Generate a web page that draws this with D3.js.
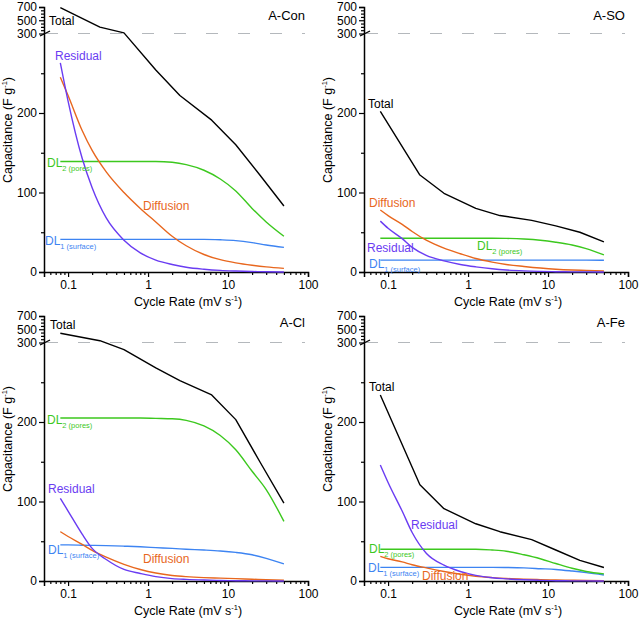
<!DOCTYPE html>
<html>
<head>
<meta charset="utf-8">
<script src="https://cdn.jsdelivr.net/npm/d3@7"></script>
<style>
  html, body { margin: 0; padding: 0; background: #fff; }
  svg { display: block; font-family: "Liberation Sans", Arial, sans-serif; }
</style>
</head>
<body>
<svg id="chart" width="642" height="621"></svg>
<script>
// ---------- DATA ----------
const panelNames = ["A-Con", "A-SO", "A-Cl", "A-Fe"];
const totalRates = [0.08, 0.25, 0.5, 1.25, 2.5, 6.25, 12.5, 25, 50];
const curveRates = [0.08, 0.1, 0.15, 0.2, 0.3, 0.5, 0.8, 1.25, 2, 3, 5, 8, 12.5, 20, 30, 50];

const totalCon     = [690, 397, 310, 254, 222, 191, 160, 122, 83];
const residualCon  = [263, 215, 143, 106, 68, 40, 24, 15, 9.5, 6, 3.5, 2, 1.2, 0.6, 0.3, 0];
const diffusionCon = [245, 222, 178, 153, 126, 100, 80, 63, 45, 33, 22, 15.5, 11.5, 8.5, 6.5, 4.6];
const dl2Con       = [139, 139, 139, 139, 139, 139, 139, 139, 138, 135, 128, 117, 102, 80, 63, 45];
const dl1Con       = [41, 41, 41, 41, 41, 41, 41, 41, 41, 41, 41, 40.5, 39.5, 37, 34, 31];

const totalSO      = [202, 122, 99, 80, 71, 65, 58, 50, 38];
const residualSO   = [64, 55, 42, 31, 21, 14, 9.5, 6.5, 4, 2.5, 1.4, 0.8, 0.4, 0.2, 0.1, 0];
const diffusionSO  = [78, 71, 60, 51, 40, 30, 23, 17, 12.5, 9.5, 7, 5, 3.5, 2.5, 2, 1.3];
const dl2SO        = [42.5, 42.5, 42.5, 42.5, 42.5, 42.5, 42.5, 42.5, 42.5, 42.3, 41.5, 40, 37.5, 34, 29.5, 21.5];
const dl1SO        = [15, 15, 15, 15, 15, 15, 15, 15, 15, 15, 15, 15, 15, 15, 14.9, 14.8];

const totalCl      = [440, 327, 291, 268, 252, 234, 203, 150, 98];
const residualCl   = [104, 88, 59, 41, 27, 14.5, 9.5, 5.5, 3, 2, 1.2, 0.7, 0.4, 0.2, 0.1, 0];
const diffusionCl  = [62, 56, 46, 38.5, 30, 21, 14.5, 10, 7, 5.5, 4.3, 3.6, 3, 2.2, 1.6, 1];
const dl2Cl        = [205, 205, 205, 205, 205, 205, 205, 204.5, 204, 202, 195, 183, 165, 138, 115, 75];
const dl1Cl        = [45.5, 45.4, 45, 44.8, 44.5, 43.8, 43, 42, 41, 40, 39, 37.8, 36, 33, 28.5, 21.5];

const totalFe      = [234, 121, 91, 72, 62, 52, 39, 26, 17];
const residualFe   = [146, 124, 88, 61, 35, 20, 12, 7, 4, 2.7, 1.5, 0.8, 0.4, 0.2, 0.1, 0];
const diffusionFe  = [31, 28, 24, 20.5, 16.5, 12, 8.5, 6, 4.3, 3.2, 2.3, 1.7, 1.3, 1, 0.8, 0.5];
const dl2Fe        = [40, 40, 40, 40, 40, 40, 40, 40, 39, 37.5, 33, 28, 22, 16, 12, 9];
const dl1Fe        = [17.2, 17.2, 17.2, 17.2, 17.2, 17.2, 17.2, 17.2, 17.2, 17, 16.5, 15.5, 14.5, 12.5, 10.5, 7.5];

const xTickLabels = [0.1, 1, 10, 100];
const yTickLabelsLow = [0, 100, 200];
const yTickLabelsHigh = [300, 500, 700];
const yMinorLow = [50, 150, 250];
const yMinorHigh = [350, 400, 450, 550, 600, 650];

// ---------- LAYOUT / STYLE ----------
const colors = {
  total: "#000000",
  residual: "#6a3cf2",
  diffusion: "#e8671e",
  dl2: "#3cc81e",
  dl1: "#3d84f2"
};
const panelOrigins = [[0, 0], [320, 0], [0, 309], [320, 309]];
const panelSeries = [
  {total: totalCon, residual: residualCon, diffusion: diffusionCon, dl2: dl2Con, dl1: dl1Con},
  {total: totalSO, residual: residualSO, diffusion: diffusionSO, dl2: dl2SO, dl1: dl1SO},
  {total: totalCl, residual: residualCl, diffusion: diffusionCl, dl2: dl2Cl, dl1: dl1Cl},
  {total: totalFe, residual: residualFe, diffusion: diffusionFe, dl2: dl2Fe, dl1: dl1Fe}
];
// label anchor positions (panel-local pixels)
const labelPos = [
  {total: [49, 25], residual: [55, 60], diffusion: [143, 210], dl2: [47, 167], dl1: [45, 245], title: 20},
  {total: [48, 108], residual: [47, 252], diffusion: [49, 207], dl2: [157, 250], dl1: [49, 268], title: 20},
  {total: [50, 20], residual: [48, 184], diffusion: [143, 254], dl2: [47, 115], dl1: [48, 245], title: 18},
  {total: [49, 82], residual: [91, 220], diffusion: [102, 271], dl2: [49, 244], dl1: [48, 263], title: 18}
];

const svg = d3.select("#chart");

const x = d3.scaleLog().domain([0.05, 100]).range([44, 308]);
const y = d3.scaleLinear().domain([0, 300, 700]).range([272, 33.5, 7]);

const xMinor = [];
[0.01, 0.1, 1, 10].forEach(d => { for (let k = 2; k <= 9; k++) { const v = +(d * k).toPrecision(3); if (v > 0.05 && v < 100) xMinor.push(v); } });

panelNames.forEach((name, i) => {
  const [ox, oy] = panelOrigins[i];
  const g = svg.append("g").attr("transform", `translate(${ox},${oy})`);
  const s = panelSeries[i];
  const lp = labelPos[i];

  // dashed break line at 300
  g.append("line")
    .attr("x1", 46).attr("x2", 305)
    .attr("y1", y(300)).attr("y2", y(300))
    .attr("stroke", "#b4b8bc").attr("stroke-width", 1.2)
    .attr("stroke-dasharray", "12,20");

  // x axis
  const xAxis = g.append("g").attr("transform", `translate(0,${y(0)})`)
    .call(d3.axisBottom(x).tickValues(xTickLabels).tickFormat(d3.format("~g")).tickSizeOuter(0).tickSize(5).tickPadding(3));
  g.append("g").attr("transform", `translate(0,${y(0)})`)
    .call(d3.axisBottom(x).tickValues(xMinor).tickFormat("").tickSizeOuter(0).tickSize(3))
    .select(".domain").remove();

  // y axis low
  g.append("g").attr("transform", `translate(44,0)`)
    .call(d3.axisLeft(y).tickValues(yTickLabelsLow.concat(yTickLabelsHigh)).tickFormat(d3.format("d")).tickSizeOuter(0).tickSize(5).tickPadding(2));
  g.append("g").attr("transform", `translate(44,0)`)
    .call(d3.axisLeft(y).tickValues(yMinorLow.concat(yMinorHigh)).tickFormat("").tickSizeOuter(0).tickSize(3))
    .select(".domain").remove();

  g.selectAll(".domain").attr("stroke", "#000").attr("stroke-width", 1.5);
  g.selectAll(".tick line").attr("stroke", "#000").attr("stroke-width", 1.2);
  g.selectAll(".tick text").attr("font-size", 12).attr("fill", "#000")
    .attr("font-family", "'Liberation Sans', Arial, sans-serif");

  // break marker
  g.append("line").attr("x1", 40).attr("x2", 50).attr("y1", y(300) + 2.5).attr("y2", y(300) - 2.5)
    .attr("stroke", "#000").attr("stroke-width", 1.3);

  // axis titles
  g.append("text").attr("x", 188).attr("y", 306).attr("text-anchor", "middle").attr("font-size", 12.5)
    .call(t => { t.append("tspan").text("Cycle Rate (mV s");
                 t.append("tspan").attr("font-size", 7.5).attr("dy", -5).text("-1");
                 t.append("tspan").attr("dy", 5).text(")"); });
  g.append("text").attr("transform", "translate(12,130) rotate(-90)").attr("text-anchor", "middle").attr("font-size", 12.5)
    .call(t => { t.append("tspan").text("Capacitance (F g");
                 t.append("tspan").attr("font-size", 7.5).attr("dy", -5).text("-1");
                 t.append("tspan").attr("dy", 5).text(")"); });

  // panel title
  g.append("text").attr("x", 305).attr("y", lp.title).attr("text-anchor", "end").attr("font-size", 13).text(name);

  // curves
  const smooth = d3.line().x(d => x(d[0])).y(d => y(d[1])).curve(d3.curveMonotoneX);
  const straight = d3.line().x(d => x(d[0])).y(d => y(d[1]));
  ["dl1", "dl2", "diffusion", "residual"].forEach(key => {
    g.append("path").datum(curveRates.map((r, j) => [r, s[key][j]]))
      .attr("d", smooth).attr("fill", "none").attr("stroke", colors[key]).attr("stroke-width", 1.4);
  });
  g.append("path").datum(totalRates.map((r, j) => [r, s.total[j]]))
    .attr("d", straight).attr("fill", "none").attr("stroke", colors.total).attr("stroke-width", 1.4)
    .attr("stroke-linejoin", "round");

  // series labels
  const lab = (key, txt) => g.append("text").attr("x", lp[key][0]).attr("y", lp[key][1])
    .attr("font-size", 12).attr("fill", colors[key]).text(txt);
  lab("total", "Total");
  lab("residual", "Residual");
  lab("diffusion", "Diffusion");
  const dl = (key, sub) => g.append("text").attr("x", lp[key][0]).attr("y", lp[key][1])
    .attr("font-size", 12).attr("fill", colors[key])
    .call(t => { t.append("tspan").text("DL");
                 t.append("tspan").attr("font-size", 7.5).attr("dy", 4).text(sub); });
  dl("dl2", "2 (pores)");
  dl("dl1", "1 (surface)");
});
</script>
</body>
</html>
